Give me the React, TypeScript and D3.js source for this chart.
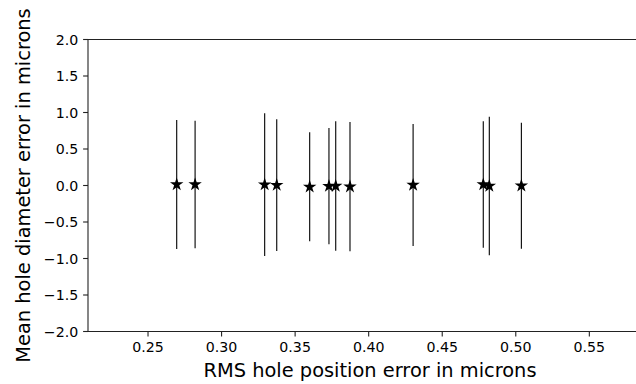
import React from "react";
import * as d3 from "d3";

const rmsPosition: number[] = [0.2695, 0.282, 0.3293, 0.3375, 0.3599, 0.373, 0.3776, 0.3873, 0.4302, 0.4779, 0.482, 0.5038];
const meanDiameter: number[] = [0.014, 0.014, 0.012, 0.005, -0.018, -0.009, -0.007, -0.016, 0.007, 0.014, -0.007, -0.003];
const diameterErr: number[] = [0.884, 0.874, 0.977, 0.902, 0.747, 0.797, 0.886, 0.886, 0.836, 0.866, 0.949, 0.863];
const xTicks: number[] = [0.25, 0.3, 0.35, 0.4, 0.45, 0.5, 0.55];
const yTicks: number[] = [-2.0, -1.5, -1.0, -0.5, 0.0, 0.5, 1.0, 1.5, 2.0];

const W = 636;
const H = 384;
const left = 88;
const right = 652;
const top = 39.5;
const bottom = 331.5;
const FONT = "DejaVu Sans, sans-serif";

export default function App() {
  const x = d3.scaleLinear().domain([0.2092, 0.5926]).range([left, right]);
  const y = d3.scaleLinear().domain([-2, 2]).range([bottom, top]);
  const star = d3.symbol(d3.symbolStar, 56)();
  const fmt = d3.format(".2f");
  const fmtY = (v: number) => d3.format(".1f")(v).replace("-", "\u2212");

  return (
    <svg width={W} height={H} style={{ position: "absolute", left: 0, top: 0, background: "#fff" }}>
      <g>
        {rmsPosition.map((xv, i) => (
          <line
            key={"e" + i}
            x1={x(xv)}
            x2={x(xv)}
            y1={y(meanDiameter[i] + diameterErr[i])}
            y2={y(meanDiameter[i] - diameterErr[i])}
            stroke="#000"
            strokeWidth={1.1}
          />
        ))}
        {rmsPosition.map((xv, i) => (
          <path key={"m" + i} d={star || ""} transform={`translate(${x(xv)},${y(meanDiameter[i])})`} fill="#000" />
        ))}
      </g>
      <line x1={left} x2={left} y1={top} y2={bottom} stroke="#222" strokeWidth={1.1} />
      <line x1={left} x2={right} y1={top} y2={top} stroke="#222" strokeWidth={1.1} />
      <line x1={left} x2={right} y1={bottom} y2={bottom} stroke="#222" strokeWidth={1.1} />
      {xTicks.map((t) => (
        <g key={"xt" + t} transform={`translate(${x(t)},0)`}>
          <line y1={bottom} y2={bottom + 4.9} stroke="#222" strokeWidth={1.1} />
          <text y={bottom + 10} dy="0.76em" textAnchor="middle" fontFamily={FONT} fontSize={14.2} fill="#000">
            {fmt(t)}
          </text>
        </g>
      ))}
      {yTicks.map((t) => (
        <g key={"yt" + t} transform={`translate(0,${y(t)})`}>
          <line x1={left} x2={left - 4.9} stroke="#222" strokeWidth={1.1} />
          <text x={left - 9.7} dy="0.36em" textAnchor="end" fontFamily={FONT} fontSize={14.2} fill="#000">
            {fmtY(t)}
          </text>
        </g>
      ))}
      <text x={(left + right) / 2} y={377} textAnchor="middle" fontFamily={FONT} fontSize={19.4} fill="#000">
        RMS hole position error in microns
      </text>
      <text
        transform={`translate(30,${(top + bottom) / 2}) rotate(-90)`}
        textAnchor="middle"
        fontFamily={FONT}
        fontSize={19.4}
        fill="#000"
      >
        Mean hole diameter error in microns
      </text>
    </svg>
  );
}
